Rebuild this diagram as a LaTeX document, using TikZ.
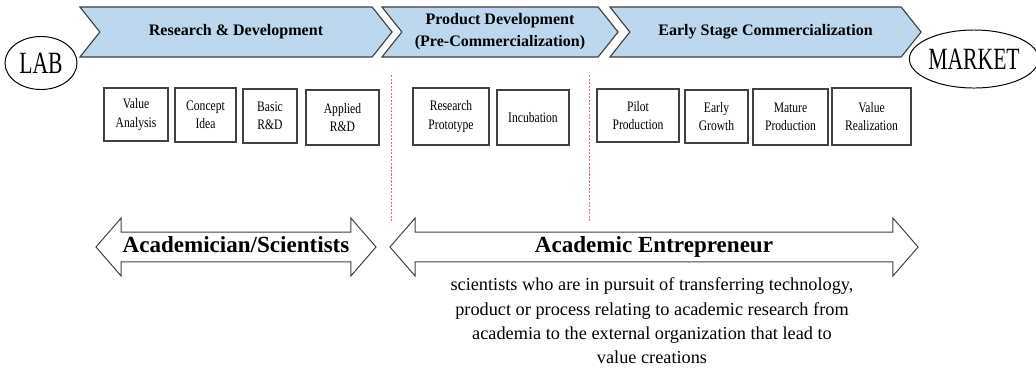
\documentclass[tikz,border=0pt]{standalone}
\usepackage{fontspec}
\setmainfont{Liberation Serif}
\newfontfamily\narrowfont{Liberation Serif}[FakeStretch=0.7]
\newfontfamily\boxfont{Liberation Serif}[FakeStretch=0.8]
\usetikzlibrary{shapes.geometric,shapes.symbols,shapes.arrows}
\definecolor{phasefill}{RGB}{189,215,238}
\definecolor{phaseline}{RGB}{64,64,64}
\definecolor{sepline}{RGB}{240,100,100}

\begin{document}
\begin{tikzpicture}[x=0.025cm,y=-0.025cm,
    phase/.style={draw=phaseline,fill=phasefill,line width=0.8pt,signal,signal from=west,signal to=east,
        signal pointer angle=103,minimum height=1.25cm,inner sep=0pt,align=center,
        font=\fontsize{11.4}{15.6}\selectfont\bfseries},
    stage/.style={draw=phaseline,line width=1.1pt,inner sep=1pt,align=center,
        font=\boxfont\fontsize{10.3}{13}\selectfont},
    place/.style={draw,ellipse,line width=0.7pt,inner sep=0pt,font=\narrowfont\fontsize{22}{26}\selectfont},
    role/.style={draw=phaseline,double arrow,double arrow head extend=10pt,double arrow tip angle=98,
        minimum width=1.425cm,text height=11pt,text depth=3.5pt,inner ysep=3pt,line width=0.7pt,
        font=\fontsize{16.4}{19}\selectfont\bfseries}]
\useasboundingbox (0,0) rectangle (1036,371);

\node [place,minimum width=1.8cm,minimum height=1.325cm] (lab) at (41,63) {LAB};
\node [place,minimum width=3.05cm,minimum height=1.45cm] (market) at (974,59) {MARKET};

\node [phase,minimum width=7.8cm] (rnd) at (236,32) {Research \& Development};
\node [phase,minimum width=5.9cm] (pdev) at (500,32) {Product Development\\(Pre-Commercialization)};
\node [phase,minimum width=7.775cm] (early) at (765.5,32) {Early Stage Commercialization};

\node [stage,minimum width=1.6cm,minimum height=1.325cm] (valana) at (136,114.5) {Value\\Analysis};
\node [stage,minimum width=1.525cm,minimum height=1.35cm] (concept) at (205.5,115) {Concept\\Idea};
\node [stage,minimum width=1.35cm,minimum height=1.35cm] (basic) at (270,116) {Basic\\R\&D};
\node [stage,minimum width=1.825cm,minimum height=1.375cm] (applied) at (342.5,117.5) {Applied\\R\&D};
\node [stage,minimum width=1.9cm,minimum height=1.425cm] (proto) at (451,116.5) {Research\\Prototype};
\node [stage,minimum width=1.8cm,minimum height=1.375cm] (incub) at (533,117.5) {Incubation};
\node [stage,minimum width=2.05cm,minimum height=1.325cm] (pilot) at (638,115.5) {Pilot\\Production};
\node [stage,minimum width=1.575cm,minimum height=1.325cm] (growth) at (716.5,116.5) {Early\\Growth};
\node [stage,minimum width=1.875cm,minimum height=1.4cm] (mature) at (790.5,117) {Mature\\Production};
\node [stage,minimum width=1.975cm,minimum height=1.425cm] (valreal) at (871.5,116.5) {Value\\Realization};

\draw [sepline,dash pattern=on 1.5pt off 1pt,line width=0.7pt] (391,75) -- (391,222);
\draw [sepline,dash pattern=on 1.5pt off 1pt,line width=0.7pt] (589,75) -- (589,221);

\node [role,minimum height=7cm] (acad) at (236,247) {Academician/Scientists};
\node [role,minimum height=13.2cm] (entre) at (654,247) {Academic Entrepreneur};

\node [align=center,font=\fontsize{13}{17.3}\selectfont] (entredef) at (652,321)
    {scientists who are in pursuit of transferring technology,\\
     product or process relating to academic research from\\
     academia to the external organization that lead to\\
     value creations};
\end{tikzpicture}
\end{document}
